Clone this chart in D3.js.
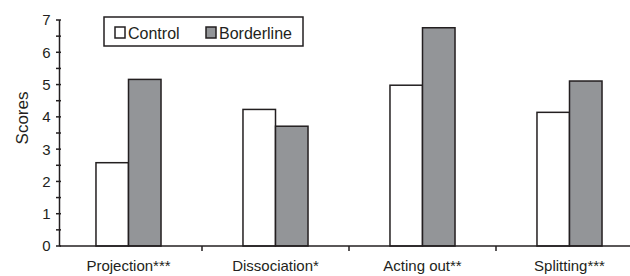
<!DOCTYPE html>
<html>
<head>
<meta charset="utf-8">
<script src="https://cdn.jsdelivr.net/npm/d3@7"></script>
<style>
  body { margin: 0; background: #fff; }
  text { font-family: "Liberation Sans", Arial, sans-serif; fill: #231f20; }
</style>
</head>
<body>
<div id="chart"></div>
<script>
var categories = ["Projection***", "Dissociation*", "Acting out**", "Splitting***"]
var groups = ["Control", "Borderline"]
var control = [2.58, 4.23, 4.98, 4.14]
var borderline = [5.16, 3.71, 6.76, 5.11]
var yTicks = [0, 1, 2, 3, 4, 5, 6, 7]

var colors = {"Control": "#ffffff", "Borderline": "#939598"}
var ink = "#231f20"

var width = 630, height = 276
var svg = d3.select("#chart").append("svg")
  .attr("width", width).attr("height", height)

var data = categories.map(function(c, i) {
  return {cat: c, Control: control[i], Borderline: borderline[i]}
})

var x0 = d3.scaleBand().domain(categories).range([55, 643])
var x1 = d3.scaleBand().domain(groups).range([0, x0.bandwidth()]).paddingOuter(1.26)
var y = d3.scaleLinear().domain([0, 7]).range([246, 20])

var axisX = 59.5

// bars
svg.append("g").selectAll("g")
  .data(data).enter().append("g")
  .attr("transform", function(d) { return "translate(" + x0(d.cat) + ",0)" })
  .selectAll("rect")
  .data(function(d) { return groups.map(function(k) { return {key: k, value: d[k]} }) })
  .enter().append("rect")
  .attr("x", function(d) { return x1(d.key) })
  .attr("y", function(d) { return y(d.value) })
  .attr("width", x1.bandwidth())
  .attr("height", function(d) { return y(0) - y(d.value) })
  .attr("fill", function(d) { return colors[d.key] })
  .attr("stroke", ink)
  .attr("stroke-width", 1.5)

// y axis
var yAxis = svg.append("g").attr("transform", "translate(" + axisX + ",0)")
yAxis.append("line").attr("y1", y(7)).attr("y2", y(0)).attr("stroke", ink).attr("stroke-width", 1.5)
var halfTicks = d3.range(0, 7.01, 0.5)
yAxis.selectAll(".tk").data(halfTicks).enter().append("line")
  .attr("x1", -3.5).attr("x2", 1.5)
  .attr("y1", function(d) { return y(d) }).attr("y2", function(d) { return y(d) })
  .attr("stroke", ink).attr("stroke-width", 1.5)
yAxis.selectAll(".lb").data(yTicks).enter().append("text")
  .attr("x", -9).attr("y", function(d) { return y(d) })
  .attr("dy", "0.36em")
  .attr("text-anchor", "end")
  .style("font-size", "15px")
  .text(function(d) { return d })

svg.append("text")
  .attr("transform", "translate(28,118) rotate(-90)")
  .attr("text-anchor", "middle")
  .style("font-size", "17px")
  .text("Scores")

// x axis
var xAxis = svg.append("g").attr("transform", "translate(0," + y(0) + ")")
xAxis.append("line").attr("x1", axisX).attr("x2", width).attr("stroke", ink).attr("stroke-width", 1.5)
xAxis.selectAll(".tk").data(categories.slice(1)).enter().append("line")
  .attr("x1", function(d) { return x0(d) }).attr("x2", function(d) { return x0(d) })
  .attr("y1", 0).attr("y2", 5)
  .attr("stroke", ink).attr("stroke-width", 1.5)
xAxis.selectAll(".lb").data(categories).enter().append("text")
  .attr("x", function(d) { return x0(d) + x0.bandwidth() / 2 })
  .attr("y", 25)
  .attr("text-anchor", "middle")
  .style("font-size", "15px")
  .text(function(d) { return d })

// legend
var legend = svg.append("g")
legend.append("rect")
  .attr("x", 104).attr("y", 17).attr("width", 199).attr("height", 29)
  .attr("fill", "#fff").attr("stroke", ink).attr("stroke-width", 1.5)
var legendX = [115, 206]
groups.forEach(function(g, i) {
  legend.append("rect")
    .attr("x", legendX[i]).attr("y", 27).attr("width", 10).attr("height", 11)
    .attr("fill", colors[g]).attr("stroke", ink).attr("stroke-width", 1.5)
  legend.append("text")
    .attr("x", legendX[i] + 13).attr("y", 38.5)
    .style("font-size", "16px")
    .text(g)
})
</script>
</body>
</html>
